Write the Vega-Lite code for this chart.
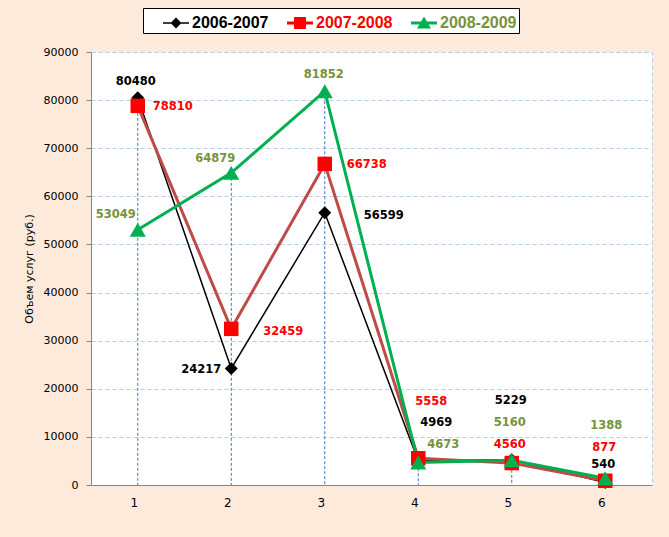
{
  "$schema": "https://vega.github.io/schema/vega-lite/v6.json",
  "width": 561,
  "height": 433,
  "autosize": "none",
  "padding": {"left": 91, "top": 52, "right": 17, "bottom": 52},
  "background": "#FDEADA",
  "data": {
    "values": [
      {"x": "1", "series": "2006-2007", "value": 80480},
      {"x": "2", "series": "2006-2007", "value": 24217},
      {"x": "3", "series": "2006-2007", "value": 56599},
      {"x": "4", "series": "2006-2007", "value": 4969},
      {"x": "5", "series": "2006-2007", "value": 5229},
      {"x": "6", "series": "2006-2007", "value": 540},
      {"x": "1", "series": "2007-2008", "value": 78810},
      {"x": "2", "series": "2007-2008", "value": 32459},
      {"x": "3", "series": "2007-2008", "value": 66738},
      {"x": "4", "series": "2007-2008", "value": 5558},
      {"x": "5", "series": "2007-2008", "value": 4560},
      {"x": "6", "series": "2007-2008", "value": 877},
      {"x": "1", "series": "2008-2009", "value": 53049},
      {"x": "2", "series": "2008-2009", "value": 64879},
      {"x": "3", "series": "2008-2009", "value": 81852},
      {"x": "4", "series": "2008-2009", "value": 4673},
      {"x": "5", "series": "2008-2009", "value": 5160},
      {"x": "6", "series": "2008-2009", "value": 1388}
    ]
  },
  "resolve": {"scale": {"fill": "independent", "shape": "independent"}},
  "layer": [
    {
      "mark": {"type": "rule", "color": "#3F74B5", "strokeWidth": 1, "strokeDash": [3, 2]},
      "encoding": {
        "x": {"field": "x", "type": "nominal", "scale": {"type": "point", "padding": 0.5}},
        "y": {"field": "value", "type": "quantitative", "aggregate": "max"},
        "y2": {"datum": 0}
      }
    },
    {
      "mark": {"type": "line"},
      "encoding": {
        "x": {"field": "x", "type": "nominal", "title": null,
          "axis": {"labelAngle": 0, "ticks": false, "labelPadding": 17, "grid": false, "labelFontSize": 12}},
        "y": {"field": "value", "type": "quantitative", "title": "Объем  услуг (руб.)",
          "scale": {"domain": [0, 90000], "nice": false},
          "axis": {"values": [0, 10000, 20000, 30000, 40000, 50000, 60000, 70000, 80000, 90000], "format": "d"}},
        "stroke": {"field": "series", "type": "nominal",
          "scale": {"domain": ["2006-2007", "2007-2008", "2008-2009"], "range": ["#000000", "#BE4B48", "#00B050"]},
          "legend": null},
        "strokeWidth": {"field": "series", "type": "ordinal",
          "scale": {"type": "ordinal", "domain": ["2006-2007", "2007-2008", "2008-2009"], "range": [1.5, 3, 3]},
          "legend": null}
      }
    },
    {
      "mark": {"type": "point", "filled": true, "opacity": 1, "strokeWidth": 0},
      "encoding": {
        "x": {"field": "x", "type": "nominal"},
        "y": {"field": "value", "type": "quantitative"},
        "shape": {"field": "series", "type": "nominal",
          "scale": {"domain": ["2006-2007", "2007-2008", "2008-2009"], "range": ["diamond", "square", "triangle-up"]},
          "legend": null},
        "fill": {"field": "series", "type": "nominal",
          "scale": {"domain": ["2006-2007", "2007-2008", "2008-2009"], "range": ["#000000", "#FF0000", "#00B050"]},
          "legend": null},
        "size": {"field": "series", "type": "ordinal",
          "scale": {"type": "ordinal", "domain": ["2006-2007", "2007-2008", "2008-2009"], "range": [170, 210, 260]},
          "legend": null}
      }
    },
    {
      "mark": {"type": "point", "filled": true, "size": 0, "strokeWidth": 0},
      "encoding": {
        "x": {"field": "x", "type": "nominal"},
        "y": {"field": "value", "type": "quantitative"},
        "shape": {"field": "series", "type": "nominal",
          "scale": {"domain": ["2006-2007", "2007-2008", "2008-2009"],
            "range": [
              "M-1,-0.06H1V0.06H-1Z M0,-0.42L0.42,0L0,0.42L-0.42,0Z",
              "M-1,-0.115H1V0.115H-1Z M-0.46,-0.46H0.46V0.46H-0.46Z",
              "M-1,-0.115H1V0.115H-1Z M0,-0.5L0.54,0.42L-0.54,0.42Z"
            ]},
          "legend": {
            "title": null, "orient": "none", "direction": "horizontal",
            "legendX": 52, "legendY": -44,
            "fillColor": "#FFFFFF", "strokeColor": "#000000", "padding": 2,
            "symbolSize": 676, "symbolStrokeWidth": 0, "symbolOffset": 18, "symbolOpacity": 1,
            "columnPadding": 0, "labelOffset": 3,
            "labelFont": "Liberation Sans", "labelFontSize": 16, "labelFontWeight": "bold",
            "labelColor": {"expr": "datum.label == '2006-2007' ? '#000000' : datum.label == '2007-2008' ? '#FF0000' : '#77933C'"}
          }},
        "fill": {"field": "series", "type": "nominal",
          "scale": {"domain": ["2006-2007", "2007-2008", "2008-2009"], "range": ["#000000", "#FF0000", "#00B050"]},
          "legend": {
            "title": null, "orient": "none", "direction": "horizontal",
            "legendX": 52, "legendY": -44,
            "fillColor": "#FFFFFF", "strokeColor": "#000000", "padding": 2,
            "symbolSize": 676, "symbolStrokeWidth": 0, "symbolOffset": 18, "symbolOpacity": 1,
            "columnPadding": 0, "labelOffset": 3,
            "labelFont": "Liberation Sans", "labelFontSize": 16, "labelFontWeight": "bold",
            "labelColor": {"expr": "datum.label == '2006-2007' ? '#000000' : datum.label == '2007-2008' ? '#FF0000' : '#77933C'"}
          }}
      }
    },
    {
      "encoding": {
        "x": {"field": "x", "type": "nominal"},
        "y": {"field": "value", "type": "quantitative"},
        "text": {"field": "value", "type": "quantitative", "format": "d"}
      },
      "layer": [
        {"transform": [{"filter": "datum.series == '2006-2007' && datum.x == '1'"}], "mark": {"type": "text", "dx": -2, "dy": -16, "color": "#000000"}},
        {"transform": [{"filter": "datum.series == '2006-2007' && datum.x == '2'"}], "mark": {"type": "text", "dx": -30, "dy": 2, "color": "#000000"}},
        {"transform": [{"filter": "datum.series == '2006-2007' && datum.x == '3'"}], "mark": {"type": "text", "dx": 59, "dy": 3, "color": "#000000"}},
        {"transform": [{"filter": "datum.series == '2006-2007' && datum.x == '4'"}], "mark": {"type": "text", "dx": 18, "dy": -38, "color": "#000000"}},
        {"transform": [{"filter": "datum.series == '2006-2007' && datum.x == '5'"}], "mark": {"type": "text", "dx": -1, "dy": -59, "color": "#000000"}},
        {"transform": [{"filter": "datum.series == '2006-2007' && datum.x == '6'"}], "mark": {"type": "text", "dx": -2, "dy": -17, "color": "#000000"}},
        {"transform": [{"filter": "datum.series == '2007-2008' && datum.x == '1'"}], "mark": {"type": "text", "dx": 35, "dy": 1, "color": "#FF0000"}},
        {"transform": [{"filter": "datum.series == '2007-2008' && datum.x == '2'"}], "mark": {"type": "text", "dx": 52, "dy": 3, "color": "#FF0000"}},
        {"transform": [{"filter": "datum.series == '2007-2008' && datum.x == '3'"}], "mark": {"type": "text", "dx": 42, "dy": 1, "color": "#FF0000"}},
        {"transform": [{"filter": "datum.series == '2007-2008' && datum.x == '4'"}], "mark": {"type": "text", "dx": 13, "dy": -56, "color": "#FF0000"}},
        {"transform": [{"filter": "datum.series == '2007-2008' && datum.x == '5'"}], "mark": {"type": "text", "dx": -2, "dy": -18, "color": "#FF0000"}},
        {"transform": [{"filter": "datum.series == '2007-2008' && datum.x == '6'"}], "mark": {"type": "text", "dx": -1, "dy": -33, "color": "#FF0000"}},
        {"transform": [{"filter": "datum.series == '2008-2009' && datum.x == '1'"}], "mark": {"type": "text", "dx": -22, "dy": -15, "color": "#77933C"}},
        {"transform": [{"filter": "datum.series == '2008-2009' && datum.x == '2'"}], "mark": {"type": "text", "dx": -16, "dy": -14, "color": "#77933C"}},
        {"transform": [{"filter": "datum.series == '2008-2009' && datum.x == '3'"}], "mark": {"type": "text", "dx": -1, "dy": -16, "color": "#77933C"}},
        {"transform": [{"filter": "datum.series == '2008-2009' && datum.x == '4'"}], "mark": {"type": "text", "dx": 25, "dy": -18, "color": "#77933C"}},
        {"transform": [{"filter": "datum.series == '2008-2009' && datum.x == '5'"}], "mark": {"type": "text", "dx": -2, "dy": -37, "color": "#77933C"}},
        {"transform": [{"filter": "datum.series == '2008-2009' && datum.x == '6'"}], "mark": {"type": "text", "dx": 1, "dy": -52, "color": "#77933C"}}
      ]
    }
  ],
  "config": {
    "view": {"fill": "#FFFFFF", "stroke": "#B9CDE5", "strokeDash": [4, 3]},
    "text": {"font": "DejaVu Sans", "fontSize": 11.5, "fontWeight": "bold"},
    "axis": {
      "labelFont": "DejaVu Sans", "labelFontSize": 11, "labelColor": "#000000",
      "titleFont": "DejaVu Sans", "titleFontSize": 11, "titleFontWeight": "normal", "titleColor": "#000000",
      "domainColor": "#868686", "tickColor": "#868686", "tickSize": 5
    },
    "axisY": {"gridColor": "#B9CDE5", "gridDash": [4, 3], "labelPadding": 8, "titlePadding": 9},
    "axisX": {"grid": false}
  }
}
